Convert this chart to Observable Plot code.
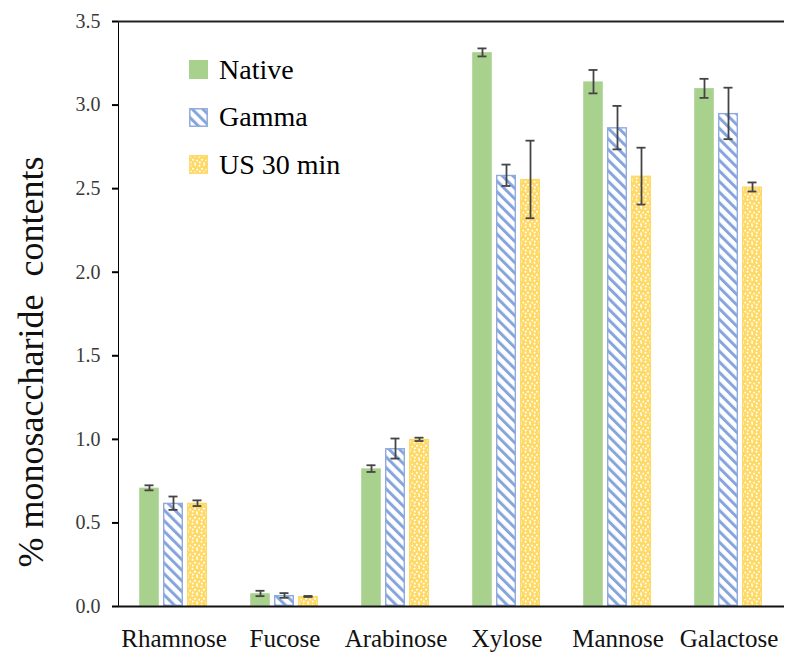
<!DOCTYPE html>
<html><head><meta charset="utf-8">
<script src="https://cdn.jsdelivr.net/npm/d3@7"></script>
<script src="https://cdn.jsdelivr.net/npm/@observablehq/plot@0.6"></script>
<style>
body{margin:0;background:#fff;}
#wrap{position:relative;width:786px;height:653px;}
#legend{position:absolute;left:189px;top:46px;font-family:'Liberation Serif';font-size:28px;color:#000;}
.item{display:flex;align-items:center;height:47.5px;white-space:nowrap;}
.item svg{margin-right:11px;flex:none;}
#chart svg text{font-family:'Liberation Serif';}
</style></head>
<body>
<svg id="defs" style="position:absolute;width:0;height:0" aria-hidden="true">
<defs>
<pattern id="hatch" width="7.5" height="7.5" patternUnits="userSpaceOnUse" patternTransform="rotate(-45)">
<rect width="7.5" height="7.5" fill="#fff"/>
<rect width="3" height="7.5" fill="#86a5dc"/>
</pattern>
<pattern id="dots" width="9" height="9" patternUnits="userSpaceOnUse">
<rect width="9" height="9" fill="#ffd966"/>
<circle cx="1.5" cy="1.8" r="1" fill="#fff"/>
<circle cx="6.2" cy="1.0" r="0.95" fill="#fff"/>
<circle cx="4.0" cy="4.8" r="1.05" fill="#fff"/>
<circle cx="8.2" cy="5.6" r="0.95" fill="#fff"/>
<circle cx="1.8" cy="7.6" r="1" fill="#fff"/>
<circle cx="6.0" cy="8.2" r="0.9" fill="#fff"/>
</pattern>
</defs></svg>
<div id="wrap"><div id="chart"></div><div id="legend"></div></div>
<script>
const categories = ["Rhamnose", "Fucose", "Arabinose", "Xylose", "Mannose", "Galactose"];
const series = ["Native", "Gamma", "US 30 min"];
const native    = [0.71, 0.078, 0.825, 3.315, 3.14, 3.10];
const nativeErr = [0.015, 0.016, 0.02, 0.024, 0.07, 0.057];
const gamma     = [0.618, 0.066, 0.945, 2.58, 2.865, 2.95];
const gammaErr  = [0.04, 0.014, 0.06, 0.064, 0.13, 0.154];
const us30      = [0.618, 0.06, 1.0, 2.555, 2.575, 2.51];
const us30Err   = [0.017, 0.003, 0.01, 0.232, 0.17, 0.027];
const yTicks = [0, 0.5, 1.0, 1.5, 2.0, 2.5, 3.0, 3.5];
const yLabel = "% monosaccharide  contents";

const fills = ["#a9d18e", "url(#hatch)", "url(#dots)"];
const strokes = ["#a9d18e", "#8faadc", "#ffd966"];
const serifFont = "Liberation Serif";

const values = [native, gamma, us30];
const errs = [nativeErr, gammaErr, us30Err];
const rows = [];
categories.forEach((c, i) => series.forEach((s, j) => rows.push({category: c, series: s, value: values[j][i], err: errs[j][i]})));

const errColor = "#444";
const chart = Plot.plot({
  width: 786, height: 653,
  marginLeft: 116, marginRight: 0, marginTop: 21, marginBottom: 47,
  style: {fontFamily: serifFont, fontSize: "20px", color: "#000", background: "#fff"},
  fx: {domain: categories, padding: 0, label: null, tickSize: 0, tickPadding: 23, axis: "bottom"},
  x: {domain: series, paddingInner: 0.16, paddingOuter: 0.81, axis: null},
  y: {domain: [0, 3.5], ticks: yTicks, tickFormat: d3.format(".1f"), tickSize: 6, tickPadding: 12, line: true, label: yLabel, labelAnchor: "center", labelArrow: "none", labelOffset: 101},
  color: {domain: series, range: fills},
  marks: [
    ...series.map((s, j) => Plot.barY(rows.filter(d => d.series === s), {fx: "category", x: "series", y: "value", fill: "series", stroke: strokes[j], strokeWidth: j ? 1.4 : 0.8, inset: 0.7})),
    Plot.ruleX(rows, {fx: "category", x: "series", y1: d => d.value - d.err, y2: d => d.value + d.err, stroke: errColor, strokeWidth: 1.8}),
    Plot.tickY(rows, {fx: "category", x: "series", y: d => d.value + d.err, insetLeft: 5.5, insetRight: 5.5, stroke: errColor, strokeWidth: 1.8}),
    Plot.tickY(rows, {fx: "category", x: "series", y: d => d.value - d.err, insetLeft: 5.5, insetRight: 5.5, stroke: errColor, strokeWidth: 1.8}),
    Plot.ruleY([0], {stroke: "#111", strokeWidth: 2}),
    Plot.ruleY([3.5], {stroke: "#222", strokeWidth: 2})
  ]
});
document.getElementById("chart").append(chart);
const svg = d3.select(chart);
svg.selectAll('[aria-label="fx-axis tick label"]').attr("font-size", 25).attr("fill", "#111");
svg.selectAll('[aria-label="y-axis tick label"]').attr("fill", "#3a3a3a");
svg.selectAll('[aria-label="y-axis label"]').attr("font-size", 36).attr("fill", "#111")
  .selectAll("text").attr("dx", -48);
svg.selectAll('[aria-label="y-axis tick"]').attr("stroke-width", 2).attr("stroke", "#111");
svg.selectAll('[aria-label="y-axis line"]').attr("stroke-width", 2).attr("stroke", "#111");

const legend = d3.select("#legend");
series.forEach((s, j) => {
  const item = legend.append("div").attr("class", "item");
  const sw = item.append("svg").attr("width", 19).attr("height", 19);
  sw.append("rect").attr("x", j ? 0.8 : 0).attr("y", j ? 0.8 : 0)
    .attr("width", j ? 17.4 : 19).attr("height", j ? 17.4 : 19)
    .attr("fill", fills[j]).attr("stroke", j ? strokes[j] : "none").attr("stroke-width", 1.5);
  item.append("span").text(s);
});
</script>
</body></html>
